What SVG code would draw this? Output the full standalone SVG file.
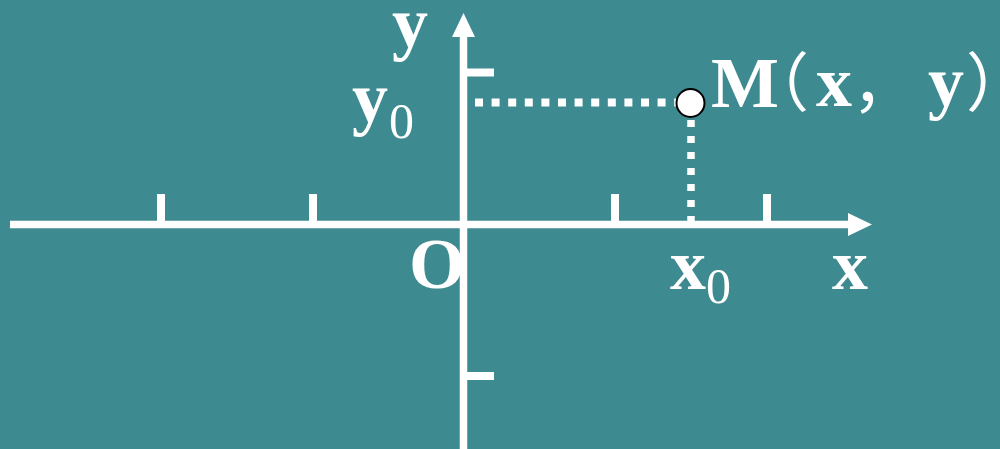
<svg xmlns="http://www.w3.org/2000/svg" width="1000" height="449" viewBox="0 0 1000 449">
<style>
.ax{stroke:#fff;stroke-width:7.5;fill:none}
.tk{stroke:#fff;stroke-width:8;fill:none}
.dot{stroke:#fff;stroke-width:8;fill:none;stroke-dasharray:8 8.6}
.lb{font-family:"Liberation Serif","Times New Roman",serif;font-weight:bold;fill:#fff;font-size:72px}
.sub{font-family:"Liberation Serif","Times New Roman",serif;font-weight:normal;fill:#fff;font-size:50px}
.cjk{font-family:"Noto Sans CJK SC",sans-serif;font-weight:normal;font-size:64px}
</style>
<rect width="1000" height="449" fill="#3D8A90"/>
<g id="connectors">
<line class="ax" x1="10" y1="224.5" x2="850" y2="224.5"/>
<polygon points="872,224.5 848,213 848,236" fill="#fff"/>
<line class="ax" x1="463.5" y1="449" x2="463.5" y2="35"/>
<polygon points="463.5,13 452,37 475,37" fill="#fff"/>
<line class="tk" x1="161" y1="194" x2="161" y2="222"/>
<line class="tk" x1="313" y1="194" x2="313" y2="222"/>
<line class="tk" x1="615" y1="194" x2="615" y2="222"/>
<line class="tk" x1="767" y1="194" x2="767" y2="222"/>
<line class="tk" x1="466" y1="72.5" x2="494" y2="72.5"/>
<line class="tk" x1="466" y1="376" x2="494" y2="376"/>
<line class="dot" x1="475" y1="102.5" x2="676" y2="102.5"/>
<line class="dot" x1="691" y1="120" x2="691" y2="221" style="stroke-width:7.5;stroke-dasharray:7 9"/>
</g>
<g id="point-M">
<circle cx="690.5" cy="103" r="14" fill="#fff" stroke="#000" stroke-width="2"/>
<text class="lb" y="106"><tspan x="711" y="107">M</tspan><tspan class="cjk" x="745" y="106">（</tspan><tspan x="816" y="106">x</tspan><tspan class="cjk" x="852" y="106">，</tspan><tspan x="928" y="106">y</tspan><tspan class="cjk" x="966" y="106">）</tspan></text>
</g>
<g id="label-y"><text class="lb" x="392" y="47">y</text></g>
<g id="label-y0"><text class="lb" x="352" y="122">y<tspan class="sub" x="389" y="138">0</tspan></text></g>
<g id="label-O"><text class="lb" x="409" y="288">O</text></g>
<g id="label-x0"><text class="lb" x="670" y="289">x<tspan class="sub" x="706" y="303">0</tspan></text></g>
<g id="label-x"><text class="lb" x="832" y="289">x</text></g>
</svg>
